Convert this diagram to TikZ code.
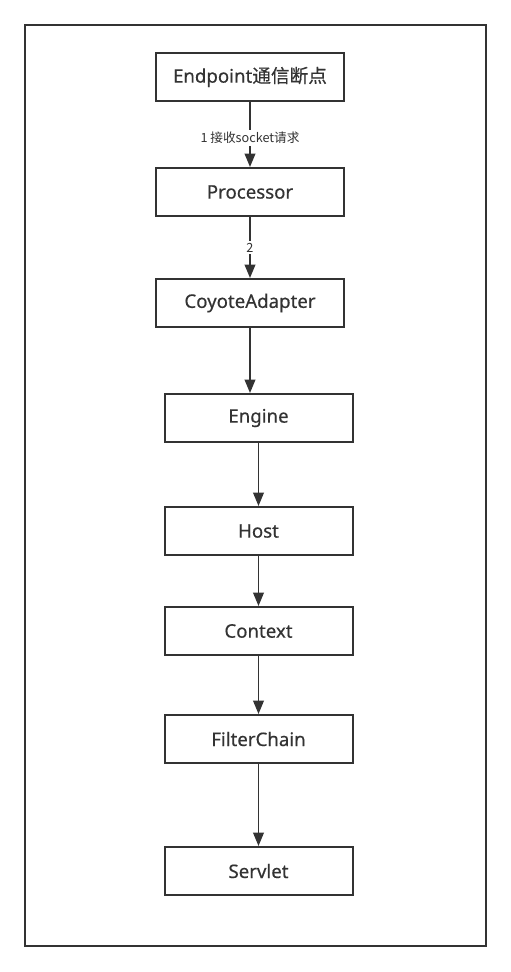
\documentclass[tikz,border=0pt]{standalone}
\usepackage{fontspec}
\setmainfont{Noto Sans}
\newfontfamily\boxfont[FakeBold=0.5]{Noto Sans}
\newfontfamily\cjk{Noto Sans CJK SC}
\newfontfamily\cjkbox[FakeBold=0.5]{Noto Sans CJK SC}
\usetikzlibrary{arrows.meta}
\definecolor{ink}{HTML}{333333}

\begin{document}
\begin{tikzpicture}[x=0.75pt,y=-0.75pt,
  main node/.style={rectangle,draw=ink,line width=1.5pt,minimum width=141pt,minimum height=36pt,
    inner sep=0pt,text=ink,font=\boxfont\fontsize{14}{16}\selectfont},
  flow/.style={draw=ink,line width=1.1pt,-{Triangle[length=10pt,width=8pt]}},
  step label/.style={fill=white,text=ink,inner sep=1.5pt,font=\cjk\fontsize{9.5}{11}\selectfont}]
  \useasboundingbox (0,0) rectangle (511,972);
  \draw[ink,line width=1.5pt] (25,25) rectangle (486,946);

  \node[main node] (endpoint) at (250,77) {Endpoint{\cjkbox 通信断点}};
  \node[main node] (processor) at (250,192) {Processor};
  \node[main node] (adapter) at (250,303) {CoyoteAdapter};
  \node[main node] (engine) at (258.5,418) {Engine};
  \node[main node] (host) at (258.5,531) {Host};
  \node[main node] (context) at (258.5,631) {Context};
  \node[main node] (filter) at (258.5,739) {FilterChain};
  \node[main node] (servlet) at (258.5,871) {Servlet};

  \draw[flow] (endpoint) -- node[step label,pos=0.55] {1 接收socket请求} (processor);
  \draw[flow] (processor) -- node[step label] {2} (adapter);
  \draw[flow] (adapter.south) -- (adapter.south |- engine.north);
  \draw[flow] (engine) -- (host);
  \draw[flow] (host) -- (context);
  \draw[flow] (context) -- (filter);
  \draw[flow] (filter) -- (servlet);
\end{tikzpicture}
\end{document}
